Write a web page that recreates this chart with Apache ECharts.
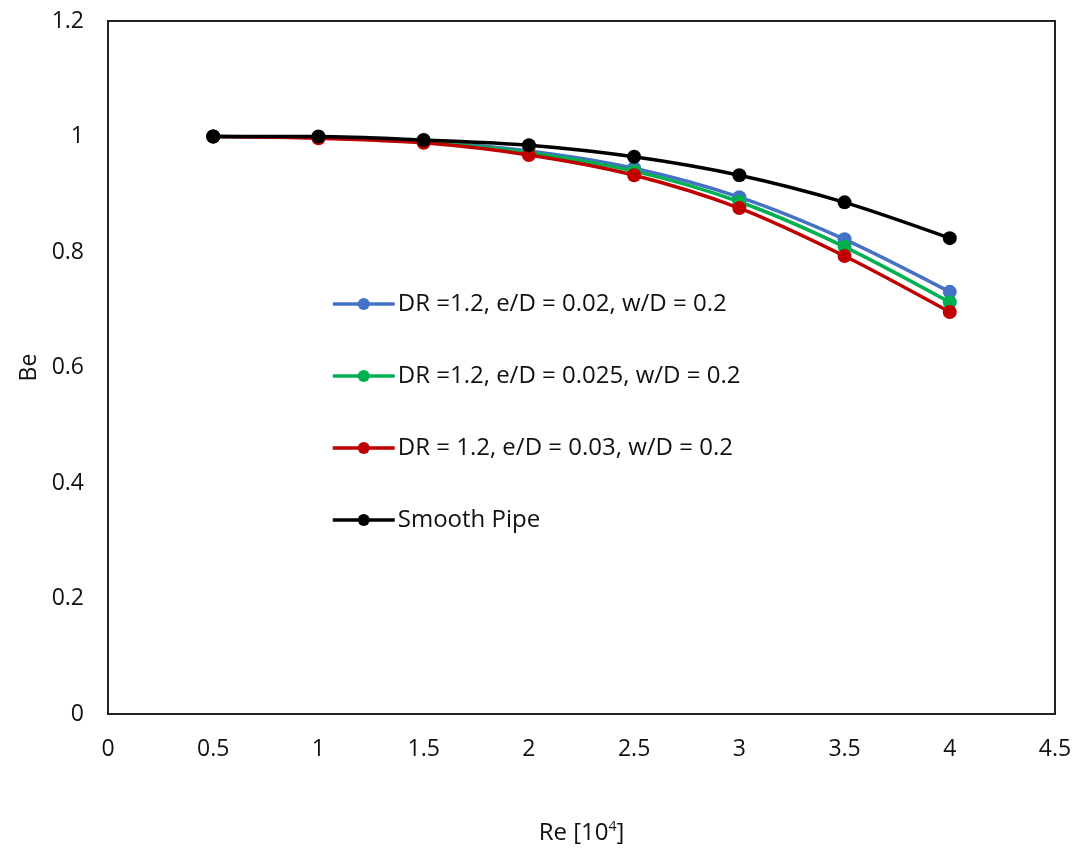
<!DOCTYPE html>
<html>
<head>
<meta charset="utf-8">
<script src="https://cdn.jsdelivr.net/npm/echarts@6/dist/echarts.min.js"></script>
<style>
  html, body { margin: 0; padding: 0; background: #fff; }
  #chart { width: 1076px; height: 860px; }
</style>
</head>
<body>
<div id="chart"></div>
<script>
// Re [10^4]
var reValues = [0.5, 1, 1.5, 2, 2.5, 3, 3.5, 4];

var seriesNames = [
    'DR =1.2, e/D = 0.02, w/D = 0.2',
    'DR =1.2, e/D = 0.025, w/D = 0.2',
    'DR = 1.2, e/D = 0.03, w/D = 0.2',
    'Smooth Pipe'
];

var beBlue = [1.0, 0.998, 0.991, 0.975, 0.945, 0.895, 0.822, 0.731];
var beGreen = [1.0, 0.998, 0.990, 0.972, 0.940, 0.887, 0.809, 0.713];
var beRed = [1.0, 0.997, 0.989, 0.968, 0.933, 0.876, 0.793, 0.696];
var beSmooth = [1.0, 1.0, 0.994, 0.985, 0.965, 0.933, 0.886, 0.824];

var colors = ['#4472c4', '#00b050', '#c00000', '#000000'];

var fontFam = '"Open Sans", sans-serif';

function pairs(ys) {
    return reValues.map(function (x, i) { return [x, ys[i]]; });
}

function makeSeries(name, ys, color, z) {
    return {
        name: name,
        type: 'line',
        smooth: 0.3,
        symbol: 'circle',
        symbolSize: 14,
        z: z,
        lineStyle: { color: color, width: 3.5 },
        itemStyle: { color: color },
        data: pairs(ys)
    };
}

var myChart = echarts.init(document.getElementById('chart'));

var option = {
    animation: false,
    backgroundColor: '#fff',
    grid: {
        left: 108,
        right: 21,
        top: 21,
        bottom: 146,
        show: true,
        borderColor: '#222',
        borderWidth: 2
    },
    legend: {
        orient: 'vertical',
        left: 326,
        top: 287,
        itemGap: 48,
        itemWidth: 62,
        itemHeight: 15,
        lineStyle: { width: 3.5 },
        textStyle: { fontFamily: fontFam, fontSize: 24, color: '#111', padding: [0, 0, 0, -2] },
        data: seriesNames
    },
    xAxis: {
        type: 'value',
        min: 0,
        max: 4.5,
        interval: 0.5,
        name: 'Re [10{sup|4}]',
        nameLocation: 'middle',
        nameGap: 106,
        nameTextStyle: {
            fontFamily: fontFam, fontSize: 24, color: '#111',
            rich: { sup: { fontFamily: fontFam, fontSize: 14, color: '#111', verticalAlign: 'top', padding: [0, 0, 12, 0] } }
        },
        axisLine: { show: false },
        axisTick: { show: false },
        splitLine: { show: false },
        axisLabel: { fontFamily: fontFam, fontSize: 23, color: '#111', margin: 24 }
    },
    yAxis: {
        type: 'value',
        min: 0,
        max: 1.2,
        interval: 0.2,
        name: 'Be',
        nameLocation: 'middle',
        nameGap: 58,
        nameRotate: 90,
        nameTextStyle: { fontFamily: fontFam, fontSize: 23, color: '#111' },
        axisLine: { show: false },
        axisTick: { show: false },
        splitLine: { show: false },
        axisLabel: { fontFamily: fontFam, fontSize: 23, color: '#111', margin: 24 }
    },
    series: [
        makeSeries(seriesNames[0], beBlue, colors[0], 2),
        makeSeries(seriesNames[1], beGreen, colors[1], 3),
        makeSeries(seriesNames[2], beRed, colors[2], 4),
        makeSeries(seriesNames[3], beSmooth, colors[3], 5)
    ]
};

myChart.setOption(option);
</script>
</body>
</html>
